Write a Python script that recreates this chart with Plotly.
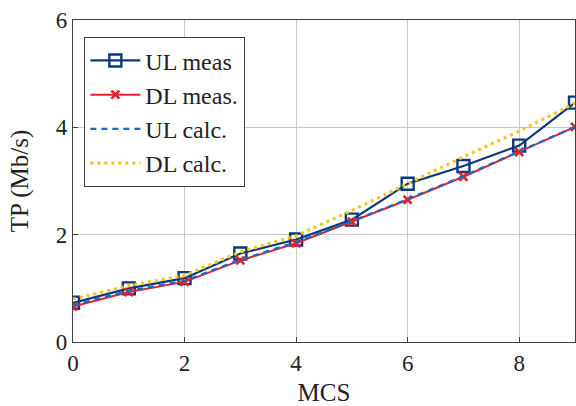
import plotly.graph_objects as go

mcs = [0, 1, 2, 3, 4, 5, 6, 7, 8, 9]
ul_meas = [0.73, 1.00, 1.19, 1.65, 1.91, 2.28, 2.95, 3.28, 3.66, 4.46]
dl_meas = [0.66, 0.93, 1.12, 1.52, 1.84, 2.24, 2.65, 3.08, 3.54, 4.01]
ul_calc = [0.69, 0.95, 1.14, 1.53, 1.86, 2.25, 2.66, 3.09, 3.55, 4.01]
dl_calc = [0.80, 1.05, 1.24, 1.68, 1.98, 2.45, 2.95, 3.45, 3.93, 4.45]

x_ticks = [0, 2, 4, 6, 8]
y_ticks = [0, 2, 4, 6]

font_family = "'Liberation Serif', 'Times New Roman', Times, serif"

fig = go.Figure()
fig.add_trace(go.Scatter(
    x=mcs, y=ul_meas, name="UL meas", mode="lines+markers",
    line=dict(color="#0b3a7a", width=2.2),
    marker=dict(symbol="square-open", size=12, color="#0b3a7a", line=dict(width=2.4)),
))
fig.add_trace(go.Scatter(
    x=mcs, y=dl_meas, name="DL meas.", mode="lines+markers",
    line=dict(color="#e8202a", width=2),
    marker=dict(symbol="x-thin-open", size=8, color="#e8202a", line=dict(width=2.6, color="#e8202a")),
))
fig.add_trace(go.Scatter(
    x=mcs, y=ul_calc, name="UL calc.", mode="lines",
    line=dict(color="#1a6cc0", width=2.4, dash="6px,5px"),
))
fig.add_trace(go.Scatter(
    x=mcs, y=dl_calc, name="DL calc.", mode="lines",
    line=dict(color="#ffc21f", width=3.2, dash="3px,4px"),
))

axis_common = dict(
    showgrid=True, gridcolor="#c8c8c8", gridwidth=1,
    showline=True, linecolor="#404040", linewidth=1.3, mirror=True,
    ticks="inside", ticklen=5, tickcolor="#404040",
    zeroline=False,
    tickfont=dict(family=font_family, size=23, color="#222"),
)

fig.update_layout(
    width=576, height=406,
    margin=dict(l=73, r=1, t=20, b=64),
    paper_bgcolor="white", plot_bgcolor="white",
    font=dict(family=font_family, size=23, color="#222"),
    xaxis=dict(range=[0, 9], tickvals=x_ticks,
               title=dict(text="MCS", font=dict(family=font_family, size=25), standoff=9),
               **axis_common),
    yaxis=dict(range=[0, 6], tickvals=y_ticks,
               title=dict(text="TP (Mb/s)", font=dict(family=font_family, size=25), standoff=20),
               automargin=False,
               **axis_common),
    legend=dict(
        x=0.022, y=0.947, xanchor="left", yanchor="top",
        bgcolor="white", bordercolor="#404040", borderwidth=1.3,
        font=dict(family=font_family, size=24, color="#222"),
        itemwidth=50,
    ),
    showlegend=True,
)

fig.write_html("out.html")
